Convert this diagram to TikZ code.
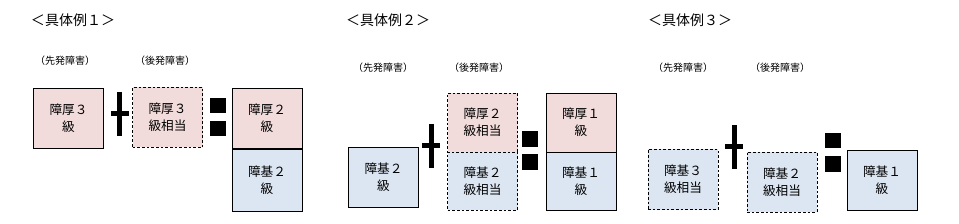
\documentclass[tikz,border=0pt]{standalone}
\usepackage{fontspec}
\setmainfont{Noto Sans CJK JP}
\usepackage{tikz}
\usetikzlibrary{positioning}
\definecolor{pinkfill}{HTML}{F2DCDB}
\definecolor{bluefill}{HTML}{DCE6F2}

\begin{document}
\begin{tikzpicture}[x=0.75pt,y=-0.75pt,
    title/.style={anchor=center,inner sep=0pt,font=\fontsize{10.5}{12}\selectfont},
    lbl/.style={anchor=center,inner sep=0pt,font=\fontsize{7.5}{9}\selectfont},
    grade/.style={draw=black,line width=0.6pt,align=center,inner sep=0pt,outer sep=0pt,
      minimum width=52.5pt,minimum height=45pt,font=\fontsize{9.5}{12.75}\selectfont},
    equiv/.style={grade,dashed,dash pattern=on 2pt off 1.5pt},
    pinkbox/.style={fill=pinkfill},
    bluebox/.style={fill=bluefill}]
        \useasboundingbox (0,0) rectangle (959,224);
        % example 1
        \node[title] (t1) at (73,20) {＜具体例１＞};
        \node[lbl] (s1) at (65,61) {（先発障害）};
        \node[lbl] (l1) at (165,61) {（後発障害）};
        \node[grade,pinkbox] (a1) at (68.5,118) {障厚３\\級};
        \node[equiv,pinkbox] (a2) at (167.5,117.5) {障厚３\\級相当};
        \node[grade,pinkbox] (a3) at (267,118) {障厚２\\級};
        \node[grade,bluebox,minimum height=46.5pt] (a4) at (267,180) {障基２\\級};
        % example 2
        \node[title] (t2) at (388,20) {＜具体例２＞};
        \node[lbl] (s2) at (383,68) {（先発障害）};
        \node[lbl] (l2) at (479,68) {（後発障害）};
        \node[grade,bluebox] (b1) at (383.5,177.5) {障基２\\級};
        \node[equiv,pinkbox,minimum height=44.25pt] (b2) at (482.5,122.5) {障厚２\\級相当};
        \node[equiv,bluebox,minimum height=43.5pt] (b3) at (482.5,181) {障基２\\級相当};
        \node[grade,pinkbox,minimum height=44.25pt] (b4) at (581,122.5) {障厚１\\級};
        \node[grade,bluebox,minimum height=43.5pt] (b5) at (581,181.5) {障基１\\級};
        % example 3
        \node[title] (t3) at (690,20) {＜具体例３＞};
        \node[lbl] (s3) at (683,68) {（先発障害）};
        \node[lbl] (l3) at (780,68) {（後発障害）};
        \node[equiv,bluebox] (c1) at (683,179.5) {障基３\\級相当};
        \node[equiv,bluebox] (c2) at (782,182) {障基２\\級相当};
        \node[grade,bluebox] (c3) at (882,180.5) {障基１\\級};
        % plus and equals signs
        \foreach \x/\y in {119.5/114,431/146,734/147} {
          \fill (\x-2.5,\y-22) rectangle (\x+2.5,\y+22);
          \fill (\x-9,\y-2.5) rectangle (\x+9,\y+2.5);
        }
        \foreach \x/\y in {218/98,530/131.5,832.5/133} {
          \fill (\x-8,\y) rectangle (\x+8,\y+15.5);
          \fill (\x-8,\y+23) rectangle (\x+8,\y+38.5);
        }
      \end{tikzpicture}
\end{document}
